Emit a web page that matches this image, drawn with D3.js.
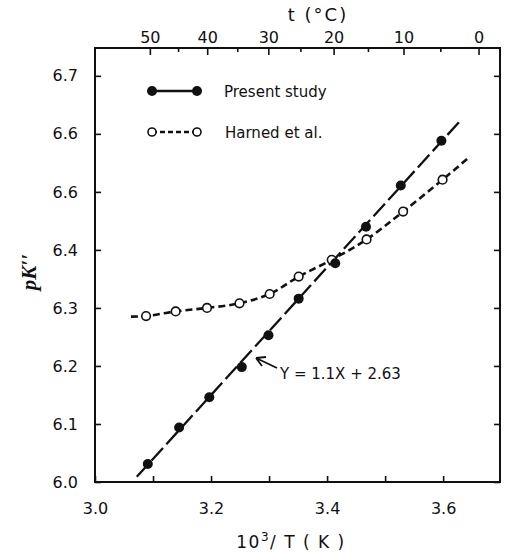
<!DOCTYPE html>
<html><head><meta charset="utf-8">
<script src="https://cdn.jsdelivr.net/npm/d3@7"></script>
<style>
body{margin:0;background:#fff;}
svg{display:block;}
text{font-family:"DejaVu Sans",sans-serif;fill:#111;}
</style></head>
<body>
<svg id="c" width="505" height="552"></svg>
<script>
// ---- data ----
const presentX = [3.091, 3.145, 3.197, 3.253, 3.299, 3.351, 3.414, 3.467, 3.527, 3.597];
const presentY = [6.031, 6.094, 6.146, 6.198, 6.253, 6.316, 6.377, 6.440, 6.511, 6.588];
const fitLineX = [3.072, 3.629];
const fitLineY = [6.009, 6.622];
const harnedX = [3.088, 3.139, 3.193, 3.249, 3.301, 3.351, 3.408, 3.468, 3.531, 3.599];
const harnedY = [6.286, 6.294, 6.300, 6.308, 6.324, 6.354, 6.383, 6.418, 6.466, 6.521];
const harnedCurveX = [3.062, 3.088, 3.139, 3.193, 3.249, 3.301, 3.351, 3.408, 3.468, 3.531, 3.599, 3.645];
const harnedCurveY = [6.285, 6.286, 6.294, 6.300, 6.308, 6.324, 6.354, 6.383, 6.418, 6.466, 6.521, 6.560];
const xTickValues = [3.0, 3.1, 3.2, 3.3, 3.4, 3.5, 3.6];
const xTickLabels = ["3.0", "", "3.2", "", "3.4", "", "3.6"];
const yTickValues = [6.0, 6.1, 6.2, 6.3, 6.4, 6.5, 6.6, 6.7];
const yTickLabels = ["6.0", "6.1", "6.2", "6.3", "6.4", "6.6", "6.6", "6.7"];
const tMajor = [50, 40, 30, 20, 10, 0];
const tMinor = [45, 35, 25, 15, 5];
const legendLabels = ["Present study", "Harned et al."];

// ---- layout ----
const L = 95, R = 500, T = 48, B = 482;
const svg = d3.select("#c");
const x = d3.scaleLinear().domain([3.0, 3.698]).range([L, R]);
const y = d3.scaleLinear().domain([6.0, 6.748]).range([B, T]);
const tToX = t => 1000 / (t + 273.15);

// frame
svg.append("rect").attr("x", L).attr("y", T).attr("width", R - L).attr("height", B - T)
  .attr("fill", "none").attr("stroke", "#111").attr("stroke-width", 2);

function styleAxis(g){
  g.select(".domain").remove();
  g.selectAll(".tick line").attr("stroke", "#111").attr("stroke-width", 1.6);
  g.selectAll(".tick text").style("font-size", "16px").attr("fill", "#111");
}

// bottom axis (ticks inward)
svg.append("g").attr("transform", `translate(0,${B})`)
  .call(d3.axisBottom(x).tickValues(xTickValues).tickFormat((d, i) => xTickLabels[i])
    .tickSizeInner(-6).tickSizeOuter(0).tickPadding(21))
  .call(styleAxis);

// left axis
svg.append("g").attr("transform", `translate(${L},0)`)
  .call(d3.axisLeft(y).tickValues(yTickValues).tickFormat((d, i) => yTickLabels[i])
    .tickSizeInner(-6).tickSizeOuter(0).tickPadding(17))
  .call(styleAxis);

// right axis
svg.append("g").attr("transform", `translate(${R},0)`)
  .call(d3.axisRight(y).tickValues(yTickValues).tickFormat("")
    .tickSizeInner(-6).tickSizeOuter(0))
  .call(styleAxis);

// top axis (temperature)
svg.append("g").attr("transform", `translate(0,${T})`)
  .call(d3.axisTop(x).tickValues(tMajor.map(tToX)).tickFormat((d, i) => String(tMajor[i]))
    .tickSizeInner(-7).tickSizeOuter(0).tickPadding(5))
  .call(styleAxis);
svg.append("g").attr("transform", `translate(0,${T})`)
  .call(d3.axisTop(x).tickValues(tMinor.map(tToX)).tickFormat("")
    .tickSizeInner(-4).tickSizeOuter(0))
  .call(styleAxis);

// axis titles
svg.append("text").attr("x", 318).attr("y", 21).attr("text-anchor", "middle")
  .style("font-size", "18px").style("letter-spacing", "2px").text("t (°C)");
const xt = svg.append("text").attr("x", 291).attr("y", 548).attr("text-anchor", "middle")
  .style("font-size", "17px").style("letter-spacing", "1.5px");
xt.append("tspan").text("10");
xt.append("tspan").attr("dy", -7).style("font-size", "12px").text("3");
xt.append("tspan").attr("dy", 7).text("/ T ( K )");

svg.append("text").attr("transform", "translate(36,272) rotate(-90)").attr("text-anchor", "middle")
  .style("font-family", "'Liberation Serif', serif").style("font-style", "italic")
  .style("font-weight", "bold").style("font-size", "21px").text("pK′′");

// lines
const lineGen = d3.line().x(d => x(d[0])).y(d => y(d[1]));
svg.append("path").datum(fitLineX.map((v, i) => [v, fitLineY[i]]))
  .attr("d", lineGen).attr("fill", "none").attr("stroke", "#111")
  .attr("stroke-width", 2.3).attr("stroke-dasharray", "17,5");

const curveGen = d3.line().x(d => x(d[0])).y(d => y(d[1])).curve(d3.curveCatmullRom);
svg.append("path").datum(harnedCurveX.map((v, i) => [v, harnedCurveY[i]]))
  .attr("d", curveGen).attr("fill", "none").attr("stroke", "#111")
  .attr("stroke-width", 2.6).attr("stroke-dasharray", "7,4");

// points
svg.selectAll("circle.h").data(harnedX).enter().append("circle")
  .attr("cx", d => x(d)).attr("cy", (d, i) => y(harnedY[i])).attr("r", 4.3)
  .attr("fill", "#fff").attr("stroke", "#111").attr("stroke-width", 1.6);
svg.selectAll("circle.p").data(presentX).enter().append("circle")
  .attr("cx", d => x(d)).attr("cy", (d, i) => y(presentY[i])).attr("r", 5)
  .attr("fill", "#111");

// legend
const lx1 = 152, lx2 = 197, ly1 = 91, ly2 = 132;
svg.append("line").attr("x1", lx1).attr("x2", lx2).attr("y1", ly1).attr("y2", ly1)
  .attr("stroke", "#111").attr("stroke-width", 2.3);
[lx1, lx2].forEach(v => svg.append("circle").attr("cx", v).attr("cy", ly1).attr("r", 5).attr("fill", "#111"));
svg.append("line").attr("x1", lx1).attr("x2", lx2).attr("y1", ly2).attr("y2", ly2)
  .attr("stroke", "#111").attr("stroke-width", 2.3).attr("stroke-dasharray", "5,3");
[lx1, lx2].forEach(v => svg.append("circle").attr("cx", v).attr("cy", ly2).attr("r", 4)
  .attr("fill", "#fff").attr("stroke", "#111").attr("stroke-width", 1.6));
svg.append("text").attr("x", 224).attr("y", 97).style("font-size", "15px").text(legendLabels[0]);
svg.append("text").attr("x", 225).attr("y", 138).style("font-size", "15px").text(legendLabels[1]);

// annotation
svg.append("text").attr("x", 280).attr("y", 379).style("font-size", "15px").text("Y = 1.1X + 2.63");
svg.append("path").attr("d", "M277,368 L256,358 M256,358 L266,357 M256,358 L262,366")
  .attr("fill", "none").attr("stroke", "#111").attr("stroke-width", 1.8);
</script>
</body></html>
